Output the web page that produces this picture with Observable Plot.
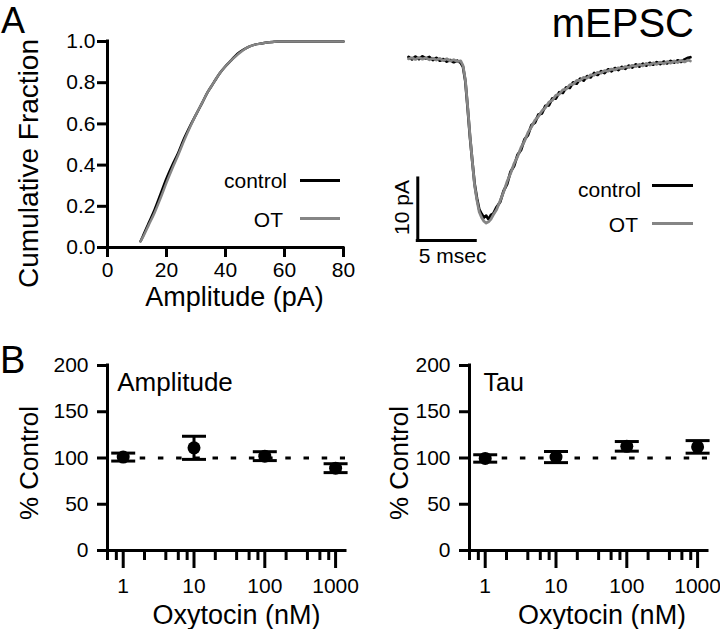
<!DOCTYPE html>
<html>
<head>
<meta charset="utf-8">
<script src="https://cdn.jsdelivr.net/npm/d3@7"></script>
<script src="https://cdn.jsdelivr.net/npm/@observablehq/plot@0.6"></script>
<style>
html, body { margin: 0; padding: 0; background: #fff; }
#fig { position: relative; width: 720px; height: 629px; overflow: hidden; background: #fff;
  font-family: "Liberation Sans", Arial, Helvetica, sans-serif; color: #000; }
.panel { position: absolute; }
.lbl { position: absolute; white-space: nowrap; line-height: 0.75; }
.sw { position: absolute; height: 3px; }
</style>
</head>
<body>
<div id="fig"></div>
<script>
// ---------------- DATA ----------------
// Panel A, left: cumulative distributions of mEPSC amplitude
const ampGridPA   = [11.2, 12, 14, 16, 18, 20, 22, 24, 26, 28, 30, 32, 34, 36, 38, 40, 42, 44, 46, 48, 50, 52, 54, 56, 58, 60, 65, 70, 75, 80];
const cumControl  = [0.03, 0.055, 0.12, 0.185, 0.26, 0.335, 0.40, 0.46, 0.53, 0.59, 0.645, 0.70, 0.755, 0.80, 0.845, 0.88, 0.91, 0.94, 0.96, 0.975, 0.985, 0.99, 0.995, 0.998, 1.0, 1.0, 1.0, 1.0, 1.0, 1.0];
const cumOT       = [0.03, 0.05, 0.11, 0.17, 0.24, 0.315, 0.385, 0.45, 0.52, 0.585, 0.645, 0.70, 0.755, 0.80, 0.845, 0.88, 0.91, 0.935, 0.958, 0.975, 0.985, 0.99, 0.995, 0.998, 1.0, 1.0, 1.0, 1.0, 1.0, 1.0];
const ampTicks    = [0, 20, 40, 60, 80];
const fracTicks   = [0, 0.2, 0.4, 0.6, 0.8, 1.0];

// Panel A, right: averaged mEPSC traces (time in ms, current in pA)
const traceTimeMs = [0, 0.3, 0.6, 0.9, 1.2, 1.5, 1.8, 2.1, 2.4, 2.7, 3.0, 3.3, 3.6, 3.9, 4.2, 4.5, 4.7, 4.9, 5.1, 5.3, 5.5, 5.7, 5.9, 6.1, 6.3, 6.5, 6.7, 6.9, 7.1, 7.3, 7.6, 7.9, 8.2, 8.5, 8.8, 9.1, 9.4, 9.7, 10.0, 10.3, 10.6, 10.9, 11.2, 11.5, 11.8, 12.1, 12.4, 12.7, 13.0, 13.3, 13.6, 13.9, 14.2, 14.5, 14.8, 15.1, 15.4, 15.7, 16.0, 16.3, 16.6, 16.9, 17.2, 17.5, 17.8, 18.1, 18.4, 18.7, 19.0, 19.3, 19.6, 19.9, 20.2, 20.5, 20.8, 21.1, 21.4, 21.7, 22.0, 22.3, 22.6, 22.9, 23.2, 23.5, 23.8, 24.1, 24.3];
const traceControlPA = [0.3, -0.1, 0.35, -0.05, 0.4, 0.05, 0.3, -0.2, 0.15, -0.3, -0.05, -0.45, -0.2, -0.55, -0.3, -0.65, -1.3, -3.6, -7.9, -12.6, -16.5, -20.2, -22.5, -24.3, -25.0, -25.6, -25.3, -25.9, -25.2, -25.0, -23.9, -23.1, -21.3, -20.2, -18.2, -17.3, -15.5, -14.7, -13.0, -12.3, -10.7, -10.3, -9.0, -8.8, -7.6, -7.5, -6.4, -6.4, -5.4, -5.5, -4.6, -4.7, -3.8, -4.0, -3.2, -3.5, -2.8, -3.0, -2.3, -2.6, -2.0, -2.3, -1.7, -2.0, -1.5, -1.8, -1.3, -1.6, -1.1, -1.4, -0.9, -1.25, -0.8, -1.1, -0.65, -0.95, -0.55, -0.85, -0.45, -0.75, -0.35, -0.6, -0.25, -0.5, -0.1, 0.15, 0.25];
const traceOTPA      = [0.0, 0.15, -0.1, 0.2, -0.05, 0.15, -0.15, 0.1, -0.2, 0.05, -0.3, 0.0, -0.35, -0.15, -0.45, -0.35, -1.1, -3.4, -7.7, -12.4, -16.5, -20.4, -22.8, -24.7, -25.6, -26.2, -26.5, -26.3, -25.9, -25.2, -24.3, -22.9, -21.5, -19.8, -18.5, -16.9, -15.8, -14.3, -13.3, -11.9, -11.0, -9.9, -9.3, -8.4, -7.9, -7.0, -6.7, -5.9, -5.7, -5.0, -4.9, -4.2, -4.1, -3.5, -3.5, -3.0, -3.1, -2.6, -2.65, -2.2, -2.3, -1.9, -2.0, -1.65, -1.8, -1.45, -1.6, -1.25, -1.4, -1.05, -1.25, -0.9, -1.15, -0.75, -1.0, -0.65, -0.9, -0.55, -0.8, -0.45, -0.7, -0.35, -0.6, -0.25, -0.5, -0.2, -0.35];
const scaleBarMs = 5;      // horizontal scale bar
const scaleBarPA = 10;     // vertical scale bar
const scaleBarOrigin = {t: 0.8, v: -29.3};

// Panel B: % control vs oxytocin concentration
const concNM   = [1, 10, 100, 1000];
const ampMean  = [101, 111, 102, 89];
const ampSEM   = [4.3, 12.5, 4.8, 4.8];
const tauMean  = [99.5, 101, 112.6, 112];
const tauSEM   = [4, 6, 5.2, 6.8];
const concDomain = [0.6, 1380];
const concMinorTicks = [0.6, 0.8, 2, 4, 6, 8, 20, 40, 60, 80, 200, 400, 600, 800];
const pctDomain = [0, 200];
const pctTicks  = [0, 50, 100, 150, 200];

const seriesNames  = ["control", "OT"];
const seriesColors = ["#000000", "#858585"];

// ---------------- DRAWING ----------------
const FONT = '"Liberation Sans", Arial, Helvetica, sans-serif';
const TICK_FS = 21;
const fig = document.getElementById("fig");
const plotStyle = {fontFamily: FONT, color: "#000", background: "transparent", overflow: "visible"};

function place(node, left, top) {
  const d = document.createElement("div");
  d.className = "panel";
  d.style.left = left + "px";
  d.style.top = top + "px";
  d.appendChild(node);
  fig.appendChild(d);
}
function addText(str, o) {
  const s = document.createElement("div");
  s.className = "lbl";
  s.textContent = str;
  s.style.fontSize = o.size + "px";
  s.style.top = (o.baseline - 0.7215 * o.size) + "px";
  if (o.left != null) s.style.left = o.left + "px";
  if (o.right != null) s.style.right = (720 - o.right) + "px";
  fig.appendChild(s);
}
function addSwatch(x1, x2, y, color) {
  const s = document.createElement("div");
  s.className = "sw";
  s.style.left = x1 + "px";
  s.style.width = (x2 - x1) + "px";
  s.style.top = (y - 1.5) + "px";
  s.style.background = color;
  fig.appendChild(s);
}

// Panel A left: cumulative fraction
const cumCtrlRows = ampGridPA.map((a, i) => ({a, f: cumControl[i]}));
const cumOTRows   = ampGridPA.map((a, i) => ({a, f: cumOT[i]}));
const plotCum = Plot.plot({
  width: 360, height: 310,
  marginLeft: 107, marginRight: 17, marginTop: 41, marginBottom: 63,
  style: plotStyle,
  x: {domain: [0, 80], label: null},
  y: {domain: [0, 1], label: null},
  marks: [
    Plot.axisX({ticks: ampTicks, tickSize: 10, tickPadding: 5, strokeWidth: 3, fontSize: TICK_FS, label: null, tickFormat: d => String(d)}),
    Plot.axisY({ticks: fracTicks, tickSize: 10, tickPadding: 2, strokeWidth: 3, fontSize: TICK_FS, label: null, tickFormat: d3.format(".1f")}),
    Plot.ruleX([0], {strokeWidth: 3, strokeLinecap: "square"}),
    Plot.ruleY([0], {strokeWidth: 3, strokeLinecap: "square"}),
    Plot.line(cumCtrlRows, {x: "a", y: "f", stroke: seriesColors[0], strokeWidth: 2.5, curve: "monotone-x"}),
    Plot.line(cumOTRows, {x: "a", y: "f", stroke: seriesColors[1], strokeWidth: 2.5, curve: "monotone-x"}),
    Plot.text(["Cumulative Fraction"], {frameAnchor: "left", textAnchor: "middle", lineAnchor: "middle", rotate: -90, dx: -78, dy: 19, fontSize: 28}),
    Plot.text(["Amplitude (pA)"], {frameAnchor: "bottom", textAnchor: "middle", lineAnchor: "middle", dx: 9, dy: 50, fontSize: 27})
  ]
});
place(plotCum, 0, 0);

// Panel A right: traces
const trCtrlRows = traceTimeMs.map((t, i) => ({t, v: traceControlPA[i]}));
const trOTRows   = traceTimeMs.map((t, i) => ({t, v: traceOTPA[i]}));
const barLabels = [
  {t: scaleBarOrigin.t, v: scaleBarOrigin.v + scaleBarPA / 2, label: scaleBarPA + " pA"},
  {t: scaleBarOrigin.t, v: scaleBarOrigin.v, label: scaleBarMs + " msec"}
];
const plotTrace = Plot.plot({
  width: 360, height: 300,
  marginLeft: 48, marginRight: 22, marginTop: 58.3, marginBottom: 55.7,
  style: plotStyle,
  x: {domain: [0, 25], axis: null},
  y: {domain: [-30, 0], axis: null},
  marks: [
    Plot.line(trCtrlRows, {x: "t", y: "v", stroke: seriesColors[0], strokeWidth: 2.8, strokeLinejoin: "round"}),
    Plot.line(trOTRows, {x: "t", y: "v", stroke: seriesColors[1], strokeWidth: 2.8, strokeLinejoin: "round"}),
    Plot.ruleX([scaleBarOrigin], {x: "t", y1: "v", y2: d => d.v + scaleBarPA, strokeWidth: 3, strokeLinecap: "square"}),
    Plot.ruleY([scaleBarOrigin], {y: "v", x1: "t", x2: d => d.t + scaleBarMs, strokeWidth: 3, strokeLinecap: "square"}),
    Plot.text(barLabels.slice(0, 1), {x: "t", y: "v", text: "label", rotate: -90, textAnchor: "middle", lineAnchor: "middle", dx: -15.5, dy: -2, fontSize: 21}),
    Plot.text(barLabels.slice(1), {x: "t", y: "v", text: "label", textAnchor: "start", lineAnchor: "middle", dx: 1, dy: 16, fontSize: 21})
  ]
});
place(plotTrace, 360, 0);

// Panel B
const capSymbol = {
  draw(context, size) {
    const w = Math.sqrt(size / Math.PI);
    context.moveTo(-w, 0);
    context.lineTo(w, 0);
  }
};
function panelB(means, sems, name, o) {
  const rows = concNM.map((c, i) => ({c, m: means[i], lo: means[i] - sems[i], hi: means[i] + sems[i]}));
  return Plot.plot({
    width: o.width, height: 309,
    marginLeft: 107, marginRight: o.marginRight, marginTop: 45, marginBottom: 79,
    style: plotStyle,
    x: {type: "log", domain: concDomain, label: null},
    y: {domain: pctDomain, label: null},
    marks: [
      Plot.ruleY([100], {strokeWidth: 3, strokeDasharray: "5.5,12.7", strokeDashoffset: 3.7}),
      Plot.axisX({ticks: concMinorTicks, tickSize: 10, strokeWidth: 3, tickFormat: () => "", label: null}),
      Plot.axisX({ticks: concNM, tickSize: 18, tickPadding: 10, strokeWidth: 3, fontSize: TICK_FS, label: null, tickFormat: d => String(d)}),
      Plot.axisY({ticks: pctTicks, tickSize: 10, tickPadding: 9, strokeWidth: 3, fontSize: TICK_FS, label: null, tickFormat: d => String(d)}),
      Plot.ruleX([concDomain[0]], {strokeWidth: 3, strokeLinecap: "square"}),
      Plot.ruleY([0], {strokeWidth: 3, strokeLinecap: "square"}),
      Plot.ruleX(rows, {x: "c", y1: "lo", y2: "hi", strokeWidth: 3}),
      Plot.dot(rows, {x: "c", y: "hi", symbol: capSymbol, r: 12, stroke: "#000", strokeWidth: 3}),
      Plot.dot(rows, {x: "c", y: "lo", symbol: capSymbol, r: 12, stroke: "#000", strokeWidth: 3}),
      Plot.dot(rows, {x: "c", y: "m", r: 6.5, fill: "#000", stroke: null}),
      Plot.text([name], {frameAnchor: "top-left", textAnchor: "start", lineAnchor: "middle", dx: o.nameDx, dy: 17, fontSize: o.nameSize}),
      Plot.text(["% Control"], {frameAnchor: "left", textAnchor: "middle", lineAnchor: "middle", rotate: -90, dx: o.yTitleDx, dy: 5, fontSize: 26}),
      Plot.text(["Oxytocin (nM)"], {frameAnchor: "bottom", textAnchor: "middle", lineAnchor: "middle", dx: o.xTitleDx, dy: 64.5, fontSize: 27})
    ]
  });
}
place(panelB(ampMean, ampSEM, "Amplitude", {width: 360, marginRight: 15, nameDx: 9.7, nameSize: 26, yTitleDx: -78, xTitleDx: 10}), 0, 320);
place(panelB(tauMean, tauSEM, "Tau", {width: 358, marginRight: 13, nameDx: 14, nameSize: 25, yTitleDx: -70, xTitleDx: 13.6}), 362, 320);

// Text overlays: panel letters, title, legends
addText("A", {left: 1, baseline: 33, size: 36});
addText("B", {left: 0, baseline: 373, size: 38});
addText("mEPSC", {right: 694, baseline: 37, size: 40});

// Legend, cumulative panel
addText(seriesNames[0], {right: 287, baseline: 188, size: 21});
addText(seriesNames[1], {right: 283, baseline: 226.7, size: 21});
addSwatch(300, 340, 180, seriesColors[0]);
addSwatch(300, 340, 218.3, seriesColors[1]);
// Legend, trace panel
addText(seriesNames[0], {right: 641, baseline: 196.7, size: 21});
addText(seriesNames[1], {right: 638, baseline: 231.7, size: 21});
addSwatch(652, 693, 185, seriesColors[0]);
addSwatch(652, 693, 223.3, seriesColors[1]);
</script>
</body>
</html>
